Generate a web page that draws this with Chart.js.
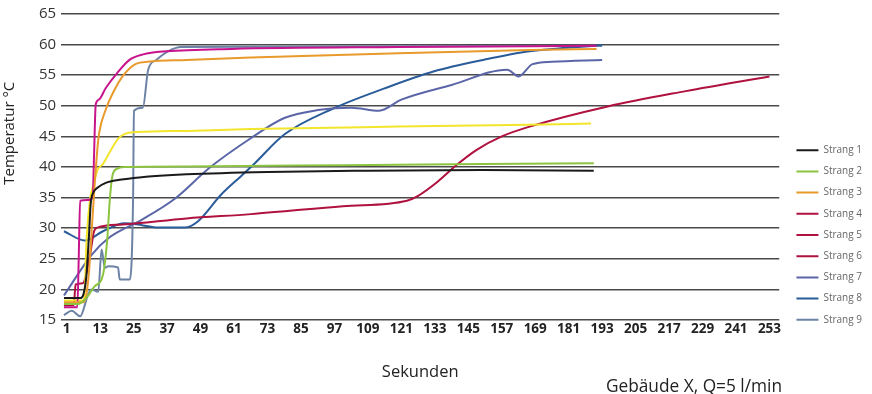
<!DOCTYPE html>
<html lang="de">
<head>
    <meta charset="UTF-8">
    <title>Temperaturverlauf Strang 1-9</title>
    <script src="https://cdn.jsdelivr.net/npm/chart.js"></script>
    <style>
        body { margin: 0; background: #fff; }
        #wrap { position: relative; width: 872px; height: 394px; }
        #note {
            position: absolute;
            right: 90px;
            top: 374px;
            font: 17.3px "Open Sans", sans-serif;
            color: #222;
        }
    </style>
</head>
<body>
<div id="wrap">
    <canvas id="tempChart" width="872" height="394"></canvas>
    <div id="note">Gebäude X, Q=5 l/min</div>
</div>

<script>
// x tick labels (seconds)
const tickLabels = [1, 13, 25, 37, 49, 61, 73, 85, 97, 109, 121, 133, 145, 157, 169, 181, 193, 205, 217, 229, 241, 253];
const seriesNames = ['Strang 1', 'Strang 2', 'Strang 3', 'Strang 4', 'Strang 5', 'Strang 6', 'Strang 7', 'Strang 8', 'Strang 9'];

// [second, °C]
const strang1 = [[0,18.6],[6,18.6],[7,19.2],[8,22],[9,29],[9.6,34],[10.5,35.8],[12,36.6],[15,37.4],[20,37.9],[27,38.3],[44,38.8],[73,39.2],[109,39.4],[150,39.5],[190,39.4]];
const strang2 = [[0,17.6],[5,17.6],[8,18.6],[11,20.5],[14,22.4],[15.5,28],[16.5,35],[17.5,38.8],[19,39.7],[21.5,40],[44,40.1],[100,40.3],[150,40.5],[190,40.6]];
const strang3 = [[0,17.9],[7,17.9],[8,19],[9,23],[10,30],[11,37],[12,43],[12.6,45.5],[15,49.4],[18,52.5],[21,54.8],[24,56.3],[26,56.9],[30,57.2],[44,57.5],[67,57.9],[120,58.6],[167,59.1],[191,59.3]];
const strang4 = [[0,17.1],[4.8,17.1],[5.3,25],[5.8,34.5],[8.5,34.6],[10.3,35],[10.8,42],[11.4,50.2],[12.5,51],[15,52.9],[19,55.3],[23.5,57.5],[28.4,58.4],[36.7,58.9],[60,59.3],[120,59.6],[191,59.8]];
const strang5 = [[0,18.2],[7,18.2],[7.5,20],[8,27],[9.3,34.5],[10.5,37],[12,39.5],[14,40.5],[16.5,42.5],[19.4,44.6],[21.8,45.4],[26,45.7],[44,45.9],[67,46.2],[120,46.6],[167,46.9],[189,47.1]];
const strang6 = [[0,17.4],[3.5,17.4],[4.2,20.8],[6.8,21],[8,22.5],[9.5,26],[10.8,29.5],[12,30.1],[21,30.6],[44,31.6],[67,32.3],[100,33.6],[123,34.5],[127,35.3],[134,37.6],[141,40.4],[148,42.8],[157,45],[167,46.6],[195,49.9],[223,52.4],[253,54.8]];
const strang7 = [[0,19],[10,25.7],[16,28.4],[28,31.4],[40,34.9],[52,39.8],[67,44.7],[79,48],[91,49.3],[103,49.7],[113,49.2],[121,51],[139,53.4],[159,55.9],[163,54.8],[168,56.8],[175,57.2],[193,57.5]];
const strang8 = [[0,29.5],[7.5,28],[14,29.5],[21.8,30.8],[28,30.5],[33.7,30.1],[43.3,30.1],[48,31.1],[56.4,35.5],[63.5,38.5],[68,40.4],[79,45.3],[96.8,49.6],[114.7,52.8],[132.5,55.6],[150.4,57.5],[167,58.9],[193,59.9]];
const strang9 = [[0,15.8],[2.8,16.5],[5.8,15.6],[8.7,19.2],[9.9,20],[12.3,19.6],[13.5,26.5],[14.7,23.5],[15.9,23.8],[19.4,23.6],[20,21.6],[23.6,21.6],[24.8,35],[25.1,49.2],[28.3,49.7],[30.2,55.9],[33.1,57.5],[37.3,58.9],[42.1,59.6],[100,59.7],[193,59.8]];

const allSeries = [strang1, strang2, strang3, strang4, strang5, strang6, strang7, strang8, strang9];
const lineColors = ['#1a1a1a', '#8cc43f', '#e89a2c', '#c8148c', '#f2e52c', '#b0123f', '#5a66a8', '#2b5c9a', '#6d83a6'];
// the legend in the original shows these swatches
const legendColors = ['#1a1a1a', '#8cc43f', '#e89a2c', '#b0123f', '#b0123f', '#b0123f', '#5a66a8', '#2b5c9a', '#6d83a6'];

const font = '"Open Sans", sans-serif';

const datasets = allSeries.map((s, i) => ({
    label: seriesNames[i],
    data: s.map(p => ({ x: p[0], y: p[1] })),
    borderColor: lineColors[i],
    backgroundColor: lineColors[i],
    borderWidth: 2,
    pointRadius: 0,
    cubicInterpolationMode: 'monotone',
    fill: false
}));

const ctx = document.getElementById('tempChart').getContext('2d');
new Chart(ctx, {
    type: 'line',
    data: { datasets: datasets },
    options: {
        responsive: false,
        animation: false,
        layout: { padding: { top: 0, right: 0, bottom: 0, left: 0 } },
        plugins: {
            tooltip: { enabled: false },
            legend: {
                position: 'right',
                align: 'start',
                // empty title only pushes the entries down
                title: { display: true, text: ' ', padding: { top: 122, bottom: 0 }, font: { size: 10 } },
                labels: {
                    boxWidth: 22,
                    boxHeight: 2,
                    padding: 11.2,
                    color: '#333',
                    font: { family: font, size: 10 },
                    generateLabels: chart => chart.data.datasets.map((ds, i) => ({
                        text: ds.label,
                        fillStyle: legendColors[i],
                        strokeStyle: legendColors[i],
                        lineWidth: 0,
                        datasetIndex: i
                    }))
                }
            }
        },
        scales: {
            x: {
                type: 'linear',
                min: -1,
                max: 256.5,
                afterBuildTicks: axis => { axis.ticks = tickLabels.map(v => ({ value: v })); },
                grid: { display: false, drawTicks: false },
                border: { display: false },
                ticks: {
                    autoSkip: false,
                    maxRotation: 0,
                    padding: 1,
                    color: '#222',
                    font: { family: font, size: 13.5, weight: 'bold' }
                },
                title: {
                    display: true,
                    text: 'Sekunden',
                    color: '#222',
                    font: { family: font, size: 16.5 },
                    padding: { top: 24, bottom: 12 }
                }
            },
            y: {
                min: 15,
                max: 65,
                ticks: {
                    stepSize: 5,
                    padding: 5,
                    color: '#333',
                    font: { family: font, size: 15 }
                },
                grid: { color: '#4a4a4a', lineWidth: 1.5, drawTicks: false },
                border: { display: false },
                title: {
                    display: true,
                    text: '\u2003\u2003\u2003\u2003\u2002Temperatur °C',
                    color: '#222',
                    font: { family: font, size: 15 },
                    padding: { top: 1, bottom: 15 }
                }
            },
            // narrow empty strip between plot and legend
            gap: {
                position: 'right',
                display: true,
                ticks: { display: false },
                grid: { display: false, drawTicks: false },
                border: { display: false },
                afterFit: axis => { axis.width = 6; }
            }
        }
    }
});
</script>
</body>
</html>
